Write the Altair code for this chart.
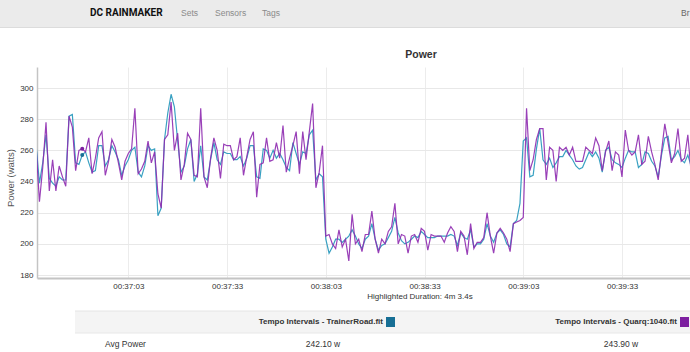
import altair as alt
import pandas as pd

# ---------------- data ----------------
START_SEC = 2195  # 00:36:35, one sample per second

trainerroad_w = [
    263, 239, 252, 270, 242, 239, 237, 243, 241, 241,
    282, 283, 252, 251, 257, 259, 252, 246, 247, 263,
    263, 250, 254, 263, 259, 254, 244, 250, 254, 260,
    262, 246, 243, 250, 263, 260, 261, 218, 223, 267,
    284, 296, 288, 266, 246, 250, 261, 267, 240, 245,
    263, 243, 241, 254, 265, 254, 251, 259, 258, 258,
    254, 254, 256, 250, 255, 263, 263, 243, 242, 261,
    260, 255, 260, 255, 258, 254, 249, 247, 265, 258,
    251, 259, 258, 270, 273, 241, 245, 243, 203, 194,
    198, 203, 203, 201, 203, 205, 209, 205, 200, 197,
    203, 205, 213, 203, 196, 199, 200, 204, 208, 217,
    207, 202, 200, 201, 203, 205, 204, 208, 206, 204,
    204, 204, 205, 205, 205, 205, 206, 205, 199, 207,
    204, 203, 209, 198, 200, 200, 203, 213, 205, 201,
    207, 209, 206, 200, 198, 213, 215, 226, 266, 268,
    243, 244, 261, 274, 254, 251, 255, 249, 252, 256,
    256, 260, 257, 254, 250, 248, 249, 254, 259, 256,
    259, 255, 246, 260, 262, 254, 252, 251, 249, 255,
    260, 259, 259, 249, 251, 259, 258, 253, 250, 243,
    257, 268, 269, 254, 256, 260, 254, 252, 257, 250,
]

quarq_w = [
    262, 227, 249, 278, 234, 254, 234, 250, 243, 237,
    282, 275, 247, 260, 261, 259, 268, 245, 255, 268,
    272, 244, 253, 267, 262, 252, 241, 253, 258, 261,
    287, 245, 248, 253, 266, 252, 259, 232, 223, 267,
    270, 291, 260, 271, 241, 251, 271, 267, 244, 243,
    287, 243, 236, 255, 268, 260, 242, 264, 263, 263,
    254, 256, 268, 244, 256, 267, 272, 230, 251, 252,
    268, 253, 254, 265, 255, 276, 246, 255, 263, 272,
    245, 272, 254, 272, 290, 236, 246, 263, 205, 206,
    200, 197, 209, 198, 203, 189, 219, 200, 203, 195,
    206, 206, 221, 203, 194, 203, 200, 208, 211, 226,
    200, 206, 205, 194, 205, 206, 201, 210, 208, 196,
    206, 205, 205, 205, 201, 207, 211, 208, 195, 208,
    205, 193, 213, 197, 201, 201, 204, 220, 205, 194,
    207, 210, 207, 203, 195, 213, 214, 215, 217, 287,
    247, 254, 267, 274, 274, 241, 262, 260, 240, 262,
    260, 262, 257, 262, 253, 253, 253, 262, 260, 258,
    268, 263, 247, 259, 266, 247, 259, 257, 243, 273,
    260, 257, 259, 270, 251, 253, 269, 259, 251, 241,
    259, 277, 265, 252, 258, 274, 253, 255, 270, 246,
]

series_names = ["Tempo Intervals - TrainerRoad.fit", "Tempo Intervals - Quarq:1040.fit"]
series_colors = ["#2f9cbf", "#8e2bb0"]
legend_colors = ["#176f95", "#7d1fa0"]
avg_power = ["242.10 w", "243.90 w"]
row_label = "Avg Power"
x_ticks = [2223, 2253, 2283, 2313, 2343, 2373]
y_ticks = [180, 200, 220, 240, 260, 280, 300]
hover_index = 14
chart_title = "Power"
y_title = "Power (watts)"
duration_text = "Highlighted Duration: 4m 3.4s"
brand = "DC RAINMAKER"
nav_links = ["Sets", "Sensors", "Tags"]
nav_right = "Br"

# ---------------- layout ----------------
PL, PT, W, H = 37, 67, 653, 211
FONT = "Liberation Sans"

def series_df(name, vals):
    return pd.DataFrame({"t": [START_SEC + i for i in range(len(vals))], "w": vals, "series": name})

df_tr = series_df(series_names[0], trainerroad_w)
df_q = series_df(series_names[1], quarq_w)

x_enc = alt.X(
    "t:Q",
    scale=alt.Scale(domain=[2195.26, 2393.66], nice=False, zero=False),
    axis=alt.Axis(
        values=x_ticks,
        labelExpr="utcFormat(datum.value * 1000, '00:%M:%S')",
        title=None, grid=True, gridColor="#ececec", gridWidth=1,
        ticks=False, labelPadding=4, domainColor="#c4c4c4", domainWidth=2,
        labelFontSize=8, labelColor="#333333", labelFont=FONT, labelFlush=False,
    ),
)
y_enc = alt.Y(
    "w:Q",
    scale=alt.Scale(domain=[178.1, 313.5], nice=False, zero=False),
    axis=alt.Axis(
        values=y_ticks, title=None, grid=True, gridColor="#e8e8e8", gridWidth=1,
        ticks=False, labelPadding=4, domainColor="#c4c4c4", domainWidth=1.5,
        labelFontSize=8, labelColor="#333333", labelFont=FONT,
    ),
)

line_tr = alt.Chart(df_tr).mark_line(strokeWidth=1.2, clip=True, color=series_colors[0], opacity=0.95).encode(x=x_enc, y=y_enc)
line_q = alt.Chart(df_q).mark_line(strokeWidth=1.2, clip=True, color=series_colors[1], opacity=0.9).encode(x=x_enc, y=y_enc)
dot_tr = alt.Chart(df_tr.iloc[[hover_index]]).mark_circle(size=16, color=legend_colors[0], opacity=1).encode(x=x_enc, y=y_enc)
dot_q = alt.Chart(df_q.iloc[[hover_index]]).mark_circle(size=16, color=legend_colors[1], opacity=1).encode(x=x_enc, y=y_enc)


def txt(s, x, y, size=8, weight="normal", color="#333333", align="left",
        baseline="middle", font=FONT, angle=0):
    return alt.Chart(pd.DataFrame({"label": [s]})).mark_text(
        align=align, baseline=baseline, fontSize=size, fontWeight=weight,
        color=color, font=font, angle=angle,
    ).encode(x=alt.value(x - PL), y=alt.value(y - PT), text="label:N")


def box(x1, y1, x2, y2, color):
    return alt.Chart(pd.DataFrame({"k": [0]})).mark_rect(color=color).encode(
        x=alt.value(x1 - PL), x2=alt.value(x2 - PL),
        y=alt.value(y1 - PT), y2=alt.value(y2 - PT),
    )


def hline(x1, x2, y, color):
    return alt.Chart(pd.DataFrame({"k": [0]})).mark_rule(color=color, strokeWidth=1).encode(
        x=alt.value(x1 - PL), x2=alt.value(x2 - PL), y=alt.value(y - PT),
    )


layers = [
    # header bar
    box(0, 0, 690, 27, "#ebebeb"),
    hline(0, 690, 27.5, "#dcdcdc"),
    txt(brand, 90, 13, size=10, weight="bold", color="#111111", font="Roboto"),
    txt(nav_links[0], 181, 13, size=8.5, color="#8a8a8a"),
    txt(nav_links[1], 215, 13, size=8.5, color="#8a8a8a"),
    txt(nav_links[2], 262, 13, size=8.5, color="#8a8a8a"),
    txt(nav_right, 681, 13, size=8.5, color="#666666"),
    # table
    box(75, 311, 690, 333, "#f4f4f4"),
    hline(75, 690, 311, "#e4e4e4"),
    hline(75, 690, 333, "#e8e8e8"),
    txt(series_names[0], 383, 322, size=8, weight="bold", align="right"),
    txt(series_names[1], 677, 322, size=8, weight="bold", align="right"),
    box(386, 317, 395, 327, legend_colors[0]),
    box(680, 317, 689, 327, legend_colors[1]),
    txt(row_label, 105, 344, size=8.5),
    txt(avg_power[0], 323, 344, size=8.5, align="center"),
    txt(avg_power[1], 621, 344, size=8.5, align="center"),
    # chart texts
    txt(chart_title, 421, 55, size=10.5, weight="bold", align="center"),
    txt(y_title, 11, 178, size=9.5, color="#555555", align="center", angle=270),
    txt(duration_text, 420, 297, size=8, align="center"),
    # data
    line_tr, line_q, dot_tr, dot_q,
]

chart = alt.layer(*layers).properties(
    width=W, height=H,
    autosize=alt.AutoSizeParams(type="none"),
    padding={"left": PL, "top": PT, "right": 0, "bottom": 352 - PT - H},
    background="white",
).configure_view(stroke=None)

chart.save("out.html", embed_options={"renderer": "svg", "actions": False})
